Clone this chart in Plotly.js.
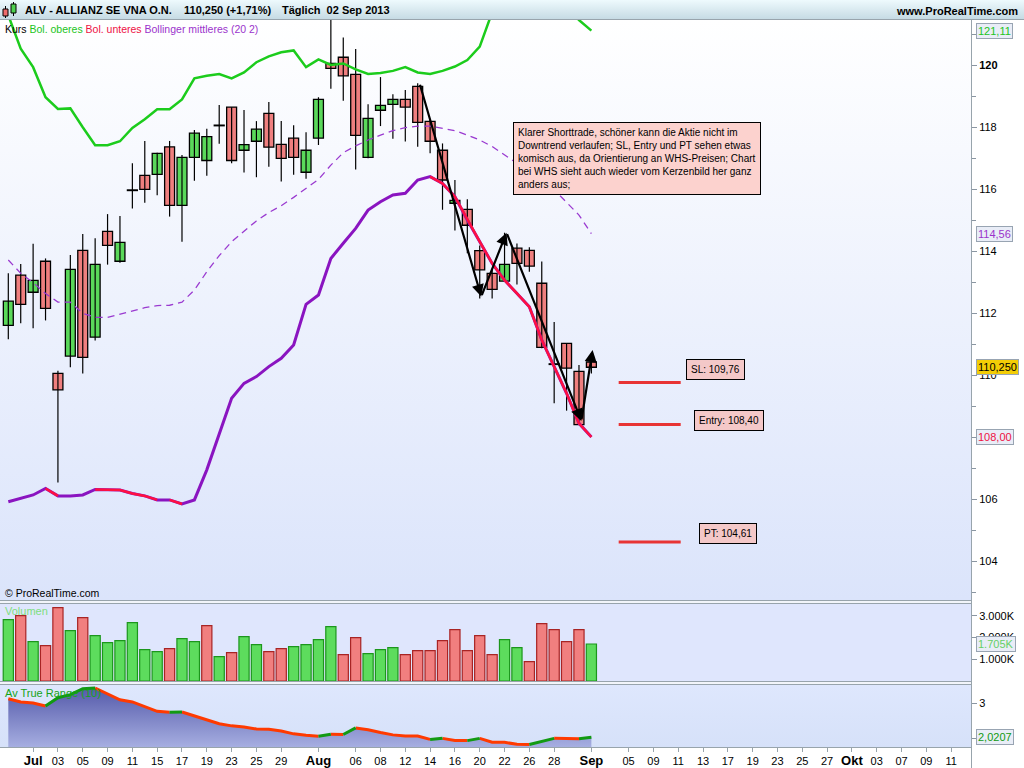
<!DOCTYPE html>
<html>
<head>
<meta charset="utf-8">
<script src="https://cdn.plot.ly/plotly-3.0.1.min.js"></script>
<style>
body { margin:0; background:#fff; }
#wrap { position:relative; width:1024px; height:768px; overflow:hidden; }
.bg { position:absolute; }
#chart { position:absolute; left:0; top:0; width:1024px; height:768px; }
</style>
</head>
<body>
<div id="wrap">
  <div class="bg" style="left:0;top:0;width:1024px;height:19px;background:linear-gradient(#eefafd,#c6dbe4);border-bottom:1px solid #98a4ac"></div>
  <div class="bg" style="left:0;top:20px;width:971px;height:580px;background:linear-gradient(#ffffff,#dbe4fb)"></div>
  <div class="bg" style="left:0;top:600px;width:971px;height:2px;background:#f2f5fa;border-top:1px solid #98a4ac;border-bottom:1px solid #98a4ac"></div>
  <div class="bg" style="left:0;top:604px;width:971px;height:77px;background:#dfe6fd"></div>
  <div class="bg" style="left:0;top:681px;width:971px;height:2px;background:#f2f5fa;border-top:1px solid #98a4ac;border-bottom:1px solid #98a4ac"></div>
  <div class="bg" style="left:0;top:685px;width:971px;height:62px;background:linear-gradient(#dee7fd,#d6e1f9)"></div>
  <div class="bg" style="left:0;top:747px;width:971px;height:1px;background:#98a4ac"></div>
  <div class="bg" style="left:971px;top:20px;width:1px;height:748px;background:#98a4ac"></div>
  <div id="chart"></div>
</div>
<script>
// ALV daily bars, 27 Jun - 02 Sep 2013 (index = bar number)
var open  = [111.60,113.22,112.67,113.67,110.05,110.61,114.02,111.22,114.63,113.67,
             115.96,116.44,116.47,117.36,115.47,117.02,116.92,118.05,118.64,117.25,
             117.54,118.44,117.44,117.64,116.54,117.64,120.05,120.25,119.70,117.02,
             118.54,118.73,118.89,119.31,118.18,117.25,115.54,115.34,114.01,113.28,
             113.03,114.09,114.02,112.96,110.35,111.02,110.12,110.42];
var high  = [113.28,113.58,114.23,113.76,110.14,113.87,114.55,114.41,115.19,115.13,
             116.83,117.55,117.17,117.55,117.10,117.90,117.94,118.71,118.64,118.55,
             118.19,118.81,118.19,118.06,117.83,118.96,121.50,120.89,120.52,118.73,
             119.61,119.06,119.19,119.41,118.26,117.47,116.29,115.67,114.18,113.39,
             114.59,114.24,114.12,113.66,111.71,111.02,110.32,110.70];
var low   = [111.15,111.67,111.51,111.76,106.53,110.25,110.05,111.11,113.56,113.62,
             115.37,115.56,115.80,115.11,114.30,116.27,116.43,117.46,116.83,116.53,
             116.38,116.72,116.24,116.46,116.33,117.42,119.23,118.85,116.63,116.99,
             118.03,117.62,117.53,117.36,117.15,115.33,114.66,113.93,112.47,112.47,
             113.01,112.92,113.33,110.86,109.09,108.85,108.40,110.05];
var close = [112.38,112.28,113.05,112.15,109.52,113.41,110.57,113.57,114.18,114.28,
             115.96,115.99,117.15,115.47,117.02,117.80,117.69,118.05,116.92,117.43,
             117.93,117.35,116.99,117.02,117.25,118.89,119.89,119.65,117.73,118.28,
             118.70,118.89,118.64,118.15,117.54,116.29,115.63,114.83,113.39,112.76,
             113.57,113.60,113.51,110.89,110.35,110.22,108.40,110.25];
var volume = [2830,3014,1816,1631,3382,2323,2922,2092,1770,1862,
              2691,1447,1355,1493,1954,1816,2553,1124,1309,2046,
              1677,1355,1493,1585,1677,1908,2507,1217,2000,1263,
              1447,1539,1217,1401,1401,1862,2369,1401,2092,1217,
              1908,1539,894,2645,2369,1816,2369,1705];
// Bollinger (20 2)
var bolUp  = [121.60,120.53,119.93,118.96,118.58,118.60,117.99,117.41,117.41,117.54,
              117.97,118.25,118.57,118.57,118.89,119.57,119.65,119.71,119.57,119.76,
              120.09,120.28,120.41,120.47,119.93,120.18,120.00,120.05,119.86,119.71,
              119.74,119.81,119.93,119.76,119.71,119.81,119.95,120.16,120.59,121.70,
              122.20,122.50,122.70,122.60,122.30,121.90,121.45,121.11];
var bolMid = [113.71,113.28,112.98,112.63,112.35,112.35,111.99,111.86,111.86,111.97,
              112.07,112.17,112.24,112.25,112.35,112.74,113.33,113.85,114.30,114.65,
              114.97,115.24,115.46,115.73,116.02,116.31,116.77,117.17,117.39,117.58,
              117.74,117.88,117.98,118.03,118.03,117.96,117.88,117.74,117.58,117.37,
              117.10,116.83,116.56,116.24,115.97,115.57,115.16,114.56];
var bolLow = [105.91,106.02,106.13,106.34,106.10,106.10,106.13,106.31,106.30,106.29,
              106.18,106.10,105.97,105.97,105.84,105.97,106.94,108.12,109.25,109.73,
              109.95,110.27,110.54,110.97,112.28,112.58,113.76,114.25,114.73,115.32,
              115.59,115.81,115.86,116.29,116.40,116.18,115.75,115.00,114.30,113.60,
              113.06,112.63,112.20,111.13,110.27,109.41,108.44,108.00];
// Average True Range (10)
var atr = [3.13,3.04,3.01,2.92,3.16,3.25,3.42,3.44,3.28,3.10,
           3.04,2.91,2.77,2.74,2.75,2.63,2.53,2.41,2.35,2.32,
           2.26,2.25,2.20,2.12,2.08,2.05,2.11,2.10,2.29,2.24,
           2.16,2.09,2.06,2.055,1.96,1.99,1.93,1.925,1.99,1.88,
           1.875,1.82,1.815,1.91,1.99,1.985,1.98,2.02];
// trade levels and the hand drawn zigzag (bar, price)
var levelNames = ['SL','Entry','PT'];
var levels = [109.76,108.40,104.61];
var levelFrom = 49.2, levelTo = 54.2;
var zigX = [33.15,38.12,40.16,46.19,47.10];
var zigY = [119.41,112.53,114.59,108.52,110.81];
// axis labels (bar index -> text)
var tickIdx = [2,4,6,8,10,12,14,16,18,20,22,25,28,30,32,34,36,38,40,42,44,47,
               50,52,54,56,58,60,62,64,66,68,70,72,74,76];
var tickTxt = ['Jul','03','05','09','11','15','17','19','23','25','29','Aug','06','08','12','14','16','20','22','26','28','Sep',
               '05','09','11','13','17','19','23','25','27','Okt','03','07','09','11'];

var FONT = 'Liberation Sans, Arial, sans-serif';
var W = 1024, H = 768;
function px(x) { return x / W; }
function py(y) { return 1 - y / H; }
var idx = close.map(function (v, i) { return i; });

// split a series into the pieces where test(prev,cur) holds
function segs(ys, test) {
  var sx = [], sy = [];
  for (var i = 1; i < ys.length; i++) {
    if (!test(ys[i - 1], ys[i])) continue;
    if (sx.length && sx[sx.length - 1] === i - 1) { sx.push(i); sy.push(ys[i]); }
    else { if (sx.length) { sx.push(null); sy.push(null); } sx.push(i - 1, i); sy.push(ys[i - 1], ys[i]); }
  }
  return {x: sx, y: sy};
}
var down = function (a, b) { return b < a; };
var up = function (a, b) { return b > a; };

// candles: wick lines + body bars (doji gets a hairline body)
var wx = [], wy = [], bBase = [], bLen = [], bFill = [];
close.forEach(function (c, i) {
  wx.push(i, i, null); wy.push(low[i], high[i], null);
  var lo = Math.min(open[i], c), len = Math.abs(c - open[i]);
  bBase.push(len < 0.02 ? lo - 0.01 : lo); bLen.push(Math.max(len, 0.02));
  bFill.push(len < 0.02 ? '#000' : (c > open[i] ? '#5ad85a' : '#ef7f7f'));
});

// volume coloured by close vs previous close
var vFill = [], vLine = [];
close.forEach(function (c, i) {
  var g = i == 0 || c >= close[i - 1];
  vFill.push(g ? '#5ddc5d' : '#f17f7f'); vLine.push(g ? '#1c961c' : '#a82424');
});

var lowRed = segs(bolLow, down);
var atrRed = segs(atr, down), atrGreen = segs(atr, up);

var traces = [
  {type: 'scatter', mode: 'lines', x: wx, y: wy, line: {color: '#000', width: 1.2}},
  {type: 'bar', x: idx, y: bLen, base: bBase, width: 0.8, xaxis: 'x', yaxis: 'y',
   marker: {color: bFill, line: {color: '#000', width: 1.3}}},
  {type: 'scatter', mode: 'lines', x: idx, y: bolUp, line: {color: '#1ccc1c', width: 2.5}},
  {type: 'scatter', mode: 'lines', x: idx, y: bolMid, line: {color: '#9a3ad0', width: 1.3, dash: '7px,5px'}},
  {type: 'scatter', mode: 'lines', x: idx, y: bolLow, line: {color: '#8a14c0', width: 3}},
  {type: 'scatter', mode: 'lines', x: lowRed.x, y: lowRed.y, line: {color: '#ff1040', width: 2.5}, connectgaps: false},
  {type: 'bar', x: idx, y: volume, xaxis: 'x2', yaxis: 'y2', width: 0.82,
   marker: {color: vFill, line: {color: vLine, width: 1.2}}},
  {type: 'scatter', mode: 'lines', x: idx, y: atr, xaxis: 'x3', yaxis: 'y3', fill: 'tozeroy',
   line: {width: 0, color: 'rgba(0,0,0,0)'},
   fillgradient: {type: 'vertical', start: 1.74, stop: 3.5, colorscale: [[0, '#a6aee1'], [1, '#5257a8']]}},
  {type: 'scatter', mode: 'lines', x: atrRed.x, y: atrRed.y, xaxis: 'x3', yaxis: 'y3', line: {color: '#ff3a00', width: 3}},
  {type: 'scatter', mode: 'lines', x: atrGreen.x, y: atrGreen.y, xaxis: 'x3', yaxis: 'y3', line: {color: '#129a12', width: 3}}
];
levels.forEach(function (v) {
  traces.push({type: 'scatter', mode: 'lines', x: [levelFrom, levelTo], y: [v, v], line: {color: '#e83434', width: 3}});
});

var ann = [];
function txt(x, y, s, opt) {
  var a = {xref: 'paper', yref: 'paper', x: px(x), y: py(y), text: s, showarrow: false,
           xanchor: 'left', yanchor: 'middle', font: {family: FONT, size: 11, color: '#000'}};
  for (var k in opt) a[k] = opt[k];
  ann.push(a);
}
// header
txt(23, 10, '<b>ALV - ALLIANZ SE VNA O.N.</b>');
txt(182, 10, '<b>110,250 (+1,71%)</b>');
txt(280, 10, '<b>Täglich  02 Sep 2013</b>');
txt(1020, 11, '<b>www.ProRealTime.com</b>', {xanchor: 'right'});
txt(3, 29, 'Kurs <span style="color:#22c422">Bol. oberes</span> <span style="color:#ee1144">Bol. unteres</span> <span style="color:#9b33cc">Bollinger mittleres (20 2)</span>', {font: {family: FONT, size: 10.5, color: '#000'}});
txt(3, 593, '© ProRealTime.com', {font: {family: FONT, size: 10.5, color: '#000'}});
txt(3, 611, 'Volumen', {font: {family: FONT, size: 11, color: '#80de80'}});
txt(3, 693, 'Av True Range (10)', {font: {family: FONT, size: 11, color: '#16a316'}});
// comment box
txt(513, 122, 'Klarer Shorttrade, schöner kann die Aktie nicht im<br>Downtrend verlaufen; SL, Entry und PT sehen etwas<br>komisch aus, da Orientierung an WHS-Preisen; Chart<br>bei WHS sieht auch wieder vom Kerzenbild her ganz<br>anders aus;',
    {yanchor: 'top', align: 'left', bgcolor: '#fcd2ce', bordercolor: '#000', borderwidth: 1, borderpad: 4,
     font: {family: FONT, size: 10, color: '#000'}});
// level labels
var levelBox = [[686, 369], [694, 420], [699, 533]];
levels.forEach(function (v, i) {
  txt(levelBox[i][0], levelBox[i][1], levelNames[i] + ': ' + v.toFixed(2).replace('.', ','),
      {bgcolor: '#f4c8c8', bordercolor: '#000', borderwidth: 1, borderpad: 4, font: {family: FONT, size: 10, color: '#000'}});
});
// last value tags on the right axis
function tag(yref, v, s, col, bg) {
  ann.push({xref: 'paper', yref: yref, x: px(976), y: v, text: s, showarrow: false, xanchor: 'left', yanchor: 'middle',
            bgcolor: bg || '#e9edf7', bordercolor: '#98a4b2', borderwidth: 1, borderpad: 1,
            font: {family: FONT, size: 11, color: col}});
}
tag('y', bolUp[47], '121,11', '#22c422');
tag('y', bolMid[47], '114,56', '#9b33cc');
tag('y', close[47], '110,250', '#000', '#f3cd06');
tag('y', bolLow[47], '108,00', '#ee1144');
tag('y2', volume[47], '1.705K', '#66d066');
tag('y3', 2.0207, '2,0207', '#129a12');
// zigzag arrows
for (var i = 1; i < zigX.length; i++) {
  ann.push({xref: 'x', yref: 'y', axref: 'x', ayref: 'y', x: zigX[i], y: zigY[i], ax: zigX[i - 1], ay: zigY[i - 1],
            showarrow: true, arrowhead: 2, arrowsize: 1.1, arrowwidth: 2.2, arrowcolor: '#000', text: '', standoff: 0});
}

var shapes = [
  // little candle icon in the header
  {type: 'line', xref: 'paper', yref: 'paper', x0: px(5.5), x1: px(5.5), y0: py(6), y1: py(18), line: {color: '#000', width: 1}},
  {type: 'rect', xref: 'paper', yref: 'paper', x0: px(3), x1: px(8), y0: py(9), y1: py(16), fillcolor: '#ee6b6b', line: {color: '#000', width: 1}},
  {type: 'line', xref: 'paper', yref: 'paper', x0: px(13.5), x1: px(13.5), y0: py(2), y1: py(16), line: {color: '#000', width: 1}},
  {type: 'rect', xref: 'paper', yref: 'paper', x0: px(11), x1: px(16), y0: py(4), y1: py(13), fillcolor: '#4fd04f', line: {color: '#000', width: 1}}
];

var xr = [-0.67, 77.6];
var axFont = {family: FONT, size: 11, color: '#000'};
var monthTxt = tickTxt.map(function (t) {
  return /^[A-Z]/.test(t) ? '<span style="font-size:13px"><b>' + t + '</b></span>' : t;
});
var layout = {
  width: W, height: H, margin: {l: 0, r: 0, t: 0, b: 0},
  paper_bgcolor: 'rgba(0,0,0,0)', plot_bgcolor: 'rgba(0,0,0,0)',
  showlegend: false, hovermode: false, barmode: 'overlay',
  font: axFont,
  xaxis: {domain: [0, px(971)], range: xr, anchor: 'y', showticklabels: false, showgrid: false, zeroline: false},
  xaxis2: {domain: [0, px(971)], range: xr, anchor: 'y2', matches: 'x', showticklabels: false, showgrid: false, zeroline: false},
  xaxis3: {domain: [0, px(971)], range: xr, anchor: 'y3', matches: 'x', showgrid: false, zeroline: false,
           tickmode: 'array', tickvals: tickIdx, ticktext: monthTxt, ticks: 'outside', ticklen: 4, tickcolor: '#98a4ac',
           tickfont: {family: FONT, size: 11, color: '#000'}},
  yaxis: {domain: [py(600), py(20)], range: [110 + (375 - 600) / 31, 110 + (375 - 20) / 31], side: 'right', anchor: 'x',
          showgrid: false, zeroline: false, tickmode: 'array',
          tickvals: [104, 106, 108, 110, 112, 114, 116, 118, 120],
          ticktext: ['104', '106', '', '110', '112', '114', '116', '118', '<b>120</b>'],
          ticks: 'outside', ticklen: 5, tickcolor: '#8a96a2',
          minor: {tickmode: 'linear', tick0: 0, dtick: 1, ticks: 'outside', ticklen: 4, tickcolor: '#8a96a2'}},
  yaxis2: {domain: [py(681), py(604)], range: [0, 3548], side: 'right', anchor: 'x2', showgrid: false, zeroline: false,
           tickmode: 'array', tickvals: [1000, 2000, 3000], ticktext: ['1.000K', '2.000K', '3.000K'],
           ticks: 'outside', ticklen: 5, tickcolor: '#8a96a2'},
  yaxis3: {domain: [py(747), py(685)], range: [1.741, 3.527], side: 'right', anchor: 'x3', showgrid: false, zeroline: false,
           tickmode: 'array', tickvals: [2, 3], ticktext: ['', '3'], ticks: 'outside', ticklen: 5, tickcolor: '#8a96a2'},
  annotations: ann,
  shapes: shapes
};

Plotly.newPlot('chart', traces, layout, {staticPlot: true, displayModeBar: false});
</script>
</body>
</html>
